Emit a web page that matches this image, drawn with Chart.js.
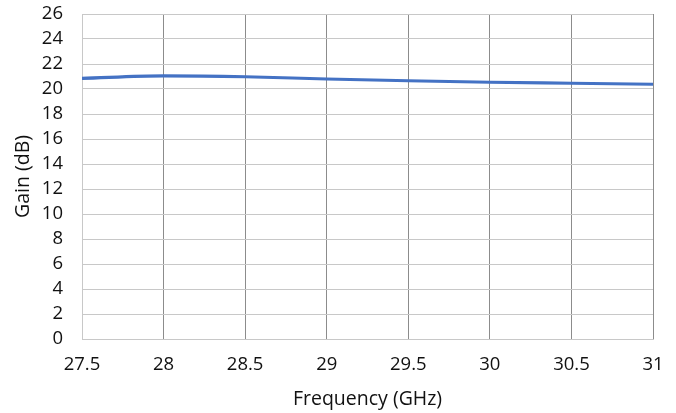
<!DOCTYPE html>
<html><head><meta charset="utf-8">
<script src="https://cdn.jsdelivr.net/npm/chart.js@4/dist/chart.umd.min.js"></script>
<style>html,body{margin:0;padding:0;background:#fff}#wrap{width:676px;height:413px}</style>
</head><body><div id="wrap"><canvas id="c" width="676" height="413"></canvas></div>
<script>
const frequencies = [27.5, 28, 28.5, 29, 29.5, 30, 30.5, 31];
const gainValues = [20.85, 21.05, 20.98, 20.8, 20.66, 20.54, 20.46, 20.38];
const xTitle = 'Frequency (GHz)';
const yTitle = 'Gain (dB)';
const font = "'Open Sans', sans-serif";
new Chart(document.getElementById('c'), {
  type: 'line',
  data: { datasets: [{
    data: frequencies.map((f, i) => ({ x: f, y: gainValues[i] })),
    borderColor: '#4472C4', borderWidth: 3.2, pointRadius: 0, tension: 0.4, cubicInterpolationMode: 'monotone'
  }]},
  options: {
    responsive: false, animation: false,
    layout: { padding: { left: 10, right: 23, top: 14, bottom: 2 } },
    plugins: { legend: { display: false }, tooltip: { enabled: false } },
    scales: {
      x: { type: 'linear', min: 27.5, max: 31,
        afterFit: s => { s.height = 72; s.paddingLeft = 0; s.paddingRight = 0; },
        ticks: { stepSize: 0.5, color: '#111', font: { family: font, size: 18.5, lineHeight: 1.2 }, padding: 15, maxRotation: 0, autoSkip: false,
          callback: v => String(v) },
        grid: { color: '#8c8c8c', lineWidth: 1, drawTicks: false },
        border: { color: '#c8c8c8' },
        title: { display: true, text: xTitle, color: '#111', font: { family: font, size: 19.5, lineHeight: 1.2 }, padding: { top: 10, bottom: 0 } } },
      y: { min: 0, max: 26,
        afterFit: s => { s.width = 72; s.paddingTop = 0; s.paddingBottom = 0; },
        ticks: { stepSize: 2, color: '#111', font: { family: font, size: 18.5, lineHeight: 1 }, padding: 19, autoSkip: false },
        grid: { color: '#c8c8c8', lineWidth: 1, drawTicks: false },
        border: { color: '#c8c8c8' },
        title: { display: true, text: yTitle, color: '#111', font: { family: font, size: 19.5, lineHeight: 1.2 }, padding: { top: 2, bottom: 4 } } }
    }
  }
});
</script></body></html>
